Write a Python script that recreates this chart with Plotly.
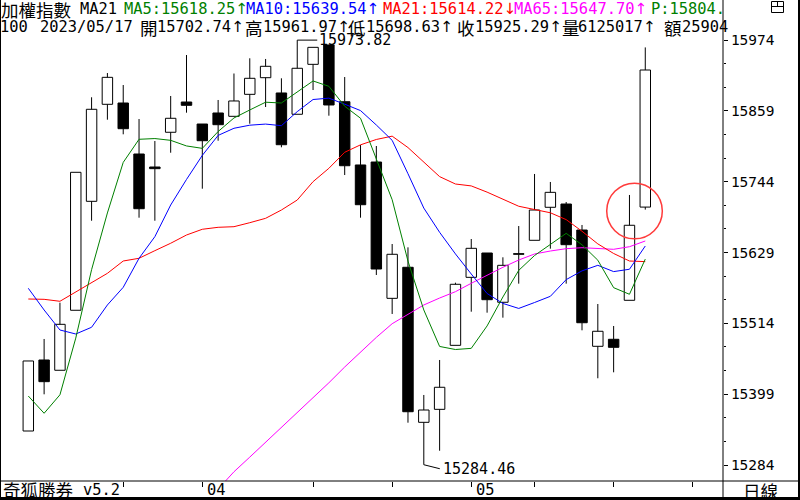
import plotly.graph_objects as go

# ---------------- data ----------------
dates = ["03/17", "03/20", "03/21", "03/22", "03/23", "03/24", "03/27", "03/28", "03/29", "03/30",
         "03/31", "04/06", "04/07", "04/10", "04/11", "04/12", "04/13", "04/14", "04/17", "04/18",
         "04/19", "04/20", "04/21", "04/24", "04/25", "04/26", "04/27", "04/28", "05/02", "05/03",
         "05/04", "05/05", "05/08", "05/09", "05/10", "05/11", "05/12", "05/15", "05/16", "05/17"]

opens = [15339.2, 15454.5, 15437.8, 15535.2, 15712.1, 15869.6, 15871.7, 15788.9, 15767.8, 15824.2,
         15873.3, 15837.6, 15855.5, 15850.1, 15885.8, 15912.8, 15888.0, 15853.4, 15934.5, 15965.9,
         15873.8, 15771.1, 15775.9, 15554.6, 15605.0, 15353.3, 15374.4, 15478.3, 15588.7, 15628.2,
         15548.2, 15626.6, 15648.8, 15702.4, 15707.7, 15665.5, 15476.7, 15488.1, 15551.4, 15702.74]
highs = [15452.9, 15488.6, 15547.5, 15759.2, 15881.0, 15920.4, 15900.9, 15845.7, 15810.0, 15883.1,
         15949.6, 15837.6, 15876.6, 15919.6, 15944.3, 15943.2, 15911.8, 15973.82, 15962.1, 15965.9,
         15913.9, 15803.5, 15801.9, 15642.8, 15637.4, 15397.7, 15454.5, 15580.0, 15650.9, 15628.2,
         15621.2, 15672.0, 15756.5, 15743.5, 15711.0, 15673.7, 15545.4, 15509.7, 15722.4, 15961.97]
lows = [15339.2, 15398.8, 15437.8, 15535.2, 15680.6, 15844.6, 15820.9, 15685.5, 15680.6, 15791.0,
        15856.0, 15732.6, 15810.5, 15850.1, 15838.1, 15865.2, 15799.8, 15853.4, 15892.8, 15851.1,
        15754.8, 15685.5, 15592.5, 15529.2, 15352.7, 15284.46, 15307.2, 15478.3, 15532.9, 15531.3,
        15523.2, 15578.4, 15648.8, 15635.2, 15578.4, 15502.7, 15424.8, 15434.5, 15551.4, 15698.63]
closes = [15452.9, 15419.3, 15512.4, 15759.2, 15861.5, 15913.4, 15830.0, 15700.1, 15765.1, 15846.9,
          15868.0, 15810.5, 15836.5, 15875.0, 15911.8, 15931.3, 15804.0, 15928.1, 15962.1, 15868.5,
          15769.9, 15706.6, 15602.2, 15626.1, 15370.5, 15373.3, 15410.2, 15577.4, 15635.8, 15552.4,
          15608.2, 15626.1, 15698.0, 15726.7, 15641.7, 15515.0, 15501.1, 15475.1, 15673.2, 15925.29]

ma5 = [15396.0, 15368.0, 15398.0, 15490.0, 15601.1, 15693.2, 15775.3, 15812.8, 15814.0, 15811.1,
       15802.0, 15798.1, 15825.4, 15847.4, 15860.4, 15873.0, 15871.7, 15890.0, 15907.5, 15898.8,
       15866.5, 15847.0, 15781.9, 15714.7, 15615.1, 15535.7, 15476.5, 15471.5, 15473.4, 15509.8,
       15556.8, 15600.0, 15624.1, 15642.3, 15660.1, 15641.5, 15616.5, 15571.9, 15561.2, 15618.25]
ma10 = [15570.9, 15535.7, 15503.2, 15496.7, 15507.6, 15543.8, 15572.5, 15619.6, 15654.7, 15706.1,
        15747.6, 15786.7, 15819.1, 15830.7, 15835.7, 15837.5, 15834.9, 15857.7, 15877.4, 15879.6,
        15869.8, 15859.4, 15836.0, 15811.1, 15756.9, 15701.1, 15661.8, 15626.7, 15594.1, 15562.4,
        15546.3, 15538.2, 15547.8, 15557.9, 15585.0, 15599.2, 15608.2, 15598.0, 15601.8, 15639.54]
ma21 = [15553.5, 15553.0, 15549.8, 15565.4, 15580.0, 15595.2, 15615.2, 15619.6, 15632.0, 15644.0,
        15657.4, 15666.7, 15669.9, 15670.9, 15677.4, 15684.5, 15698.0, 15714.2, 15744.0, 15765.7,
        15791.7, 15803.8, 15812.5, 15817.9, 15799.4, 15776.2, 15752.2, 15740.2, 15737.1, 15727.0,
        15715.6, 15704.1, 15698.8, 15693.5, 15682.4, 15663.5, 15643.0, 15627.4, 15615.2, 15614.22]
ma65 = [None, None, None, None, None, None, None, None, None, None,
        None, None, 15245.0, 15273.0, 15296.8, 15320.7, 15344.6, 15368.6, 15392.5, 15417.5,
        15443.1, 15467.8, 15491.2, 15513.4, 15528.8, 15543.8, 15555.1, 15565.4, 15579.0, 15592.5,
        15605.0, 15616.8, 15626.6, 15631.4, 15635.2, 15636.8, 15635.2, 15634.2, 15638.4, 15647.70]

y_ticks = [15974, 15859, 15744, 15629, 15514, 15399, 15284]
week_ticks = [6, 11, 18, 23, 28, 32, 37, 42]
month_ticks = [11, 28]
month_labels = ["04", "05"]
volume_text = "6125017"
amount_text = "25904"
p_text = "15804."

# ---------------- layout geometry ----------------
W, H = 800, 500
PL, PR, PT, PB = 2, 723, 1, 481          # plot box in pixels
X0_PX, STEP_PX = 28.3, 15.82            # pixel of first candle, candle spacing
Y_REF_PX, Y_REF_V, V_PER_PX = 40, 15974, 1.6235

x_range = [(PL - X0_PX) / STEP_PX, (PR - X0_PX) / STEP_PX]
y_range = [Y_REF_V - (PB - Y_REF_PX) * V_PER_PX, Y_REF_V + (Y_REF_PX - PT) * V_PER_PX]


def px(x):
    return (x - PL) / (PR - PL)


def py(y):
    return (PB - y) / (PB - PT)


MONO = "DejaVu Sans Mono, Noto Sans CJK TC, monospace"
CJK = "Noto Sans CJK TC, Noto Sans CJK SC, sans-serif"
GREEN, BLUE, RED, MAG = "#008000", "#0000FF", "#FF0000", "#FF00FF"
UP = "<span style='font-family:DejaVu Sans'>↑</span>"
DOWN = "<span style='font-family:DejaVu Sans'>↓</span>"

idx = list(range(len(opens)))

fig = go.Figure()

# wicks
wx, wy = [], []
for i, (o, h, l, c) in enumerate(zip(opens, highs, lows, closes)):
    top, bot = max(o, c), min(o, c)
    if h > top:
        wx += [i, i, None]
        wy += [top, h, None]
    if l < bot:
        wx += [i, i, None]
        wy += [l, bot, None]
fig.add_trace(go.Scatter(x=wx, y=wy, mode="lines", line=dict(color="black", width=1),
                         hoverinfo="skip"))

# bodies
base = [min(o, c) for o, c in zip(opens, closes)]
hgt = [max(abs(c - o), 1.0) for o, c in zip(opens, closes)]
fill = ["white" if c >= o else "black" for o, c in zip(opens, closes)]
fig.add_trace(go.Bar(x=idx, y=hgt, base=base, width=0.66,
                     marker=dict(color=fill, line=dict(color="black", width=1)),
                     hoverinfo="skip"))

# moving averages
for arr, col in [(ma65, MAG), (ma21, RED), (ma10, BLUE), (ma5, GREEN)]:
    fig.add_trace(go.Scatter(x=idx, y=arr, mode="lines", line=dict(color=col, width=1),
                             hoverinfo="skip", connectgaps=False))

# high / low markers
hi_i = highs.index(max(highs))
lo_i = lows.index(min(lows))
fig.add_trace(go.Scatter(x=[hi_i, hi_i + 20 / STEP_PX], y=[highs[hi_i], highs[hi_i]],
                         mode="lines", line=dict(color="black", width=1), hoverinfo="skip"))
fig.add_trace(go.Scatter(x=[lo_i, lo_i + 16 / STEP_PX],
                         y=[lows[lo_i], lows[lo_i] - 4 * V_PER_PX],
                         mode="lines", line=dict(color="black", width=1), hoverinfo="skip"))

ann = []
ann.append(dict(x=hi_i + 20 / STEP_PX, y=highs[hi_i], xref="x", yref="y", text=f"{max(highs):.2f}",
                showarrow=False, xanchor="left", yanchor="middle",
                font=dict(family=MONO, size=15, color="black")))
ann.append(dict(x=lo_i + 17 / STEP_PX, y=lows[lo_i] - 4 * V_PER_PX, xref="x", yref="y",
                text=f"{min(lows):.2f}", showarrow=False, xanchor="left", yanchor="middle",
                font=dict(family=MONO, size=15, color="black")))


def txt(s, x, y, color="black", fam=MONO, size=15.4):
    ann.append(dict(x=px(x - 2), y=py(y), xref="paper", yref="paper", text=s, showarrow=False,
                    xanchor="left", yanchor="middle", font=dict(family=fam, size=size, color=color)))


# header line 1
txt("加權指數", 1, 9.5, fam=CJK, size=17.5)
txt("MA21", 80, 9.5)
txt(f"MA5:{ma5[-1]:.2f}{UP}", 124, 9.5, GREEN)
txt(f"MA10:{ma10[-1]:.2f}{UP}", 246, 9.5, BLUE)
txt(f"MA21:{ma21[-1]:.2f}{DOWN}", 383, 9.5, RED)
txt(f"MA65:{ma65[-1]:.2f}{UP}", 514, 9.5, MAG)
txt(f"P:{p_text}", 651, 9.5, GREEN)

# header line 2
y2 = 27.5
txt("100", 0, y2)
txt("2023/" + dates[-1], 40, y2)
txt("開", 140, y2, fam=CJK, size=17.5)
txt(f"{opens[-1]:.2f}{UP}", 157, y2)
txt("高", 245, y2, fam=CJK, size=17.5)
txt(f"{highs[-1]:.2f}{UP}", 263, y2)
txt("低", 348, y2, fam=CJK, size=17.5)
txt(f"{lows[-1]:.2f}{UP}", 366, y2)
txt("收", 457, y2, fam=CJK, size=17.5)
txt(f"{closes[-1]:.2f}{UP}", 475, y2)
txt("量", 562, y2, fam=CJK, size=17.5)
txt(volume_text + UP, 578, y2)
txt("額", 664, y2, fam=CJK, size=17.5)
txt(amount_text, 682, y2)

# bottom strip
txt("奇狐勝券", 3, 489.5, fam=CJK, size=17.5)
txt("v5.2", 83, 489.5, size=15.4)
txt("日線", 743, 490, fam=CJK, size=17.5)
for t, lab in zip(month_ticks, month_labels):
    ann.append(dict(x=t + 2.5 / STEP_PX, y=py(489.5), xref="x", yref="paper", text=lab,
                    showarrow=False, xanchor="left", yanchor="middle",
                    font=dict(family=MONO, size=15.4, color="black")))

# shapes: frame, circle, icon
shapes = []


def line_px(x0, y0, x1, y1, w=1):
    shapes.append(dict(type="line", xref="paper", yref="paper", x0=px(x0), y0=py(y0),
                       x1=px(x1), y1=py(y1), line=dict(color="black", width=w)))


line_px(0.5, 0, 0.5, 500, 1)          # left border
line_px(799, 0, 799, 500, 2)          # right border
line_px(0, 498.5, 800, 498.5, 3)      # bottom border
line_px(0, 481, 800, 481, 1)          # strip separator
line_px(723, 0, 723, 500, 1)          # axis panel separator
# small window icon top-right
shapes.append(dict(type="rect", xref="paper", yref="paper", x0=px(771.5), y0=py(1.5),
                   x1=px(783.5), y1=py(12.5), line=dict(color="black", width=1)))
line_px(771.5, 6.5, 783.5, 6.5)
line_px(777.5, 1.5, 777.5, 6.5)

# highlight circle around last candles
cx, cy_px, rad = 38.32, 211, 27.8
cy = Y_REF_V - (cy_px - Y_REF_PX) * V_PER_PX
shapes.append(dict(type="circle", xref="x", yref="y",
                   x0=cx - rad / STEP_PX, x1=cx + rad / STEP_PX,
                   y0=cy - rad * V_PER_PX, y1=cy + rad * V_PER_PX,
                   line=dict(color="#FF3B3B", width=1.5)))

minor_vals = []
for a, b in zip(y_ticks[:-1], y_ticks[1:]):
    minor_vals += [a + (b - a) / 3, a + 2 * (b - a) / 3]

fig.update_layout(
    width=W, height=H,
    margin=dict(l=PL, r=W - PR, t=PT, b=H - PB, pad=0, autoexpand=False),
    paper_bgcolor="white", plot_bgcolor="white",
    showlegend=False, hovermode=False,
    annotations=ann, shapes=shapes,
    xaxis=dict(range=x_range, showgrid=False, zeroline=False, showline=False,
               tickmode="array", tickvals=week_ticks, ticks="outside", ticklen=5,
               tickcolor="black", tickwidth=1, showticklabels=False, fixedrange=True,
               automargin=False),
    yaxis=dict(range=y_range, side="right", showgrid=False, zeroline=False,
               showline=False, tickmode="array", tickvals=y_ticks,
               ticktext=[str(v) for v in y_ticks], ticks="outside", ticklen=4,
               tickcolor="black", tickwidth=1, automargin=False,
               tickfont=dict(family=MONO, size=14.5, color="black"),
               minor=dict(tickmode="array", tickvals=minor_vals, ticks="outside", ticklen=2,
                          tickcolor="black", tickwidth=1),
               fixedrange=True),
)

fig.write_html("out.html", config={"displayModeBar": False},
               post_script="document.body.style.margin='0px';document.body.style.overflow='hidden';")
